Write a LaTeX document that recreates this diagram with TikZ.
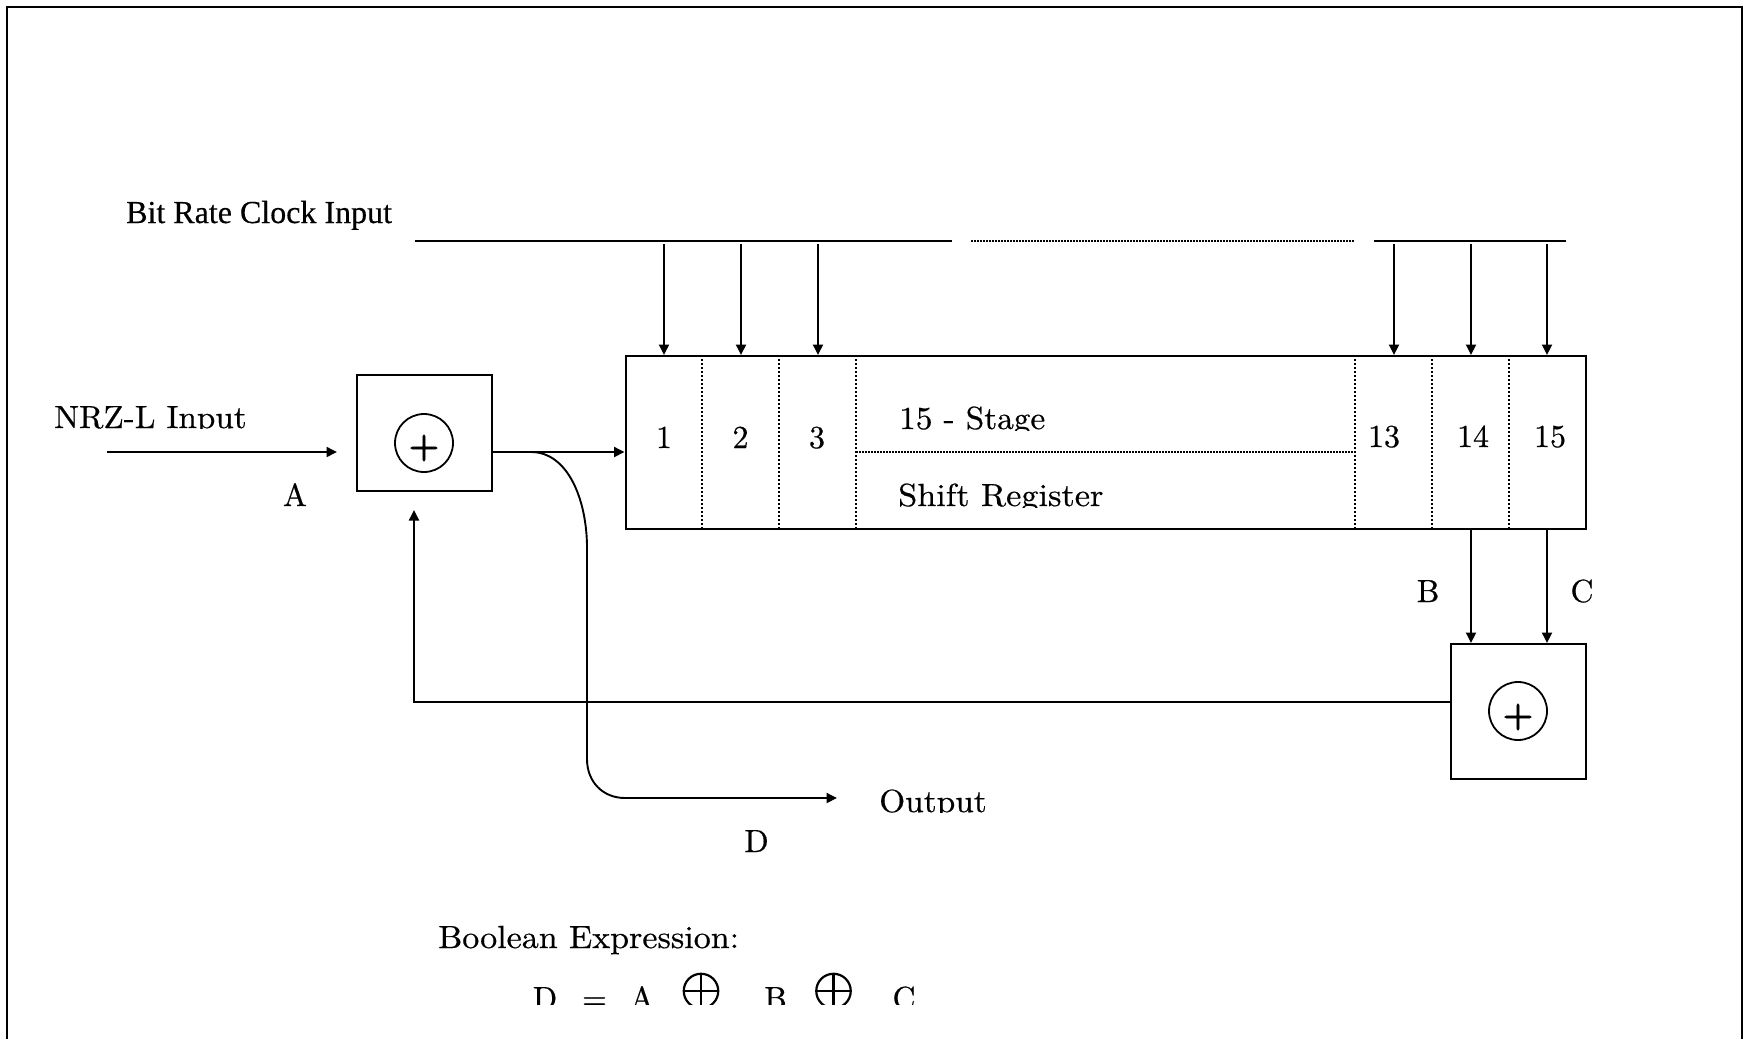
\documentclass[tikz,border=0pt]{standalone}
\usepackage{fontspec}
\setmainfont{lmroman10-regular}[Extension=.otf,RawFeature={embolden=0.5}]
\newfontfamily\plusfont{lmroman10-bold}[Extension=.otf,RawFeature={embolden=2.5}]
\newfontfamily\timesfont{Liberation Serif}[RawFeature={embolden=0.4}]
\newcommand{\stretched}[1]{\addfontfeature{FakeStretch=#1}}
\usetikzlibrary{arrows.meta}
\tikzset{
  x=1pt,y=-1pt,
  wire/.style={line width=1.9pt,line cap=butt},
  arrowed/.style={wire,-{Triangle[length=10.5pt,width=10pt]}},
  boxed/.style={draw,line width=2pt,inner sep=0pt,fill=white},
  dotline/.style={line width=1.9pt,dash pattern=on 2pt off 2pt},
  fineline/.style={line width=1.9pt,dash pattern=on 1.6pt off 1.4pt},
  txt/.style={inner sep=0pt,anchor=base west,font=\fontsize{32}{36}\selectfont},
  ctxt/.style={inner sep=0pt,anchor=base,font=\fontsize{32}{36}\selectfont},
  ring/.style={draw,circle,line width=1.8pt,minimum size=58pt,inner sep=0pt},
  plusmark/.style={inner sep=0pt,font=\fontsize{34}{38}\plusfont},
  oplusarc/.style={draw,circle,line width=2.2pt,minimum size=34.5pt,inner sep=0pt}
}
\begin{document}
\begin{tikzpicture}
\useasboundingbox (0,0) rectangle (1743,1039);
\fill[white] (0,0) rectangle (1743,1039);
\draw[line width=2pt] (6.5,1039) -- (6.5,6.5) -- (1741.5,6.5) -- (1741.5,1039);

% boxes
\node[boxed,minimum width=960.5pt,minimum height=173pt] (reg) at (1105.75,442.5) {};
\node[boxed,minimum width=134.5pt,minimum height=116pt] (suma) at (424.25,433) {};
\node[boxed,minimum width=135pt,minimum height=135pt] (sumb) at (1518.5,711.5) {};
\node[ring] (ringa) at (424,443) {};
\node[ring] (ringb) at (1518,711) {};
\node[plusmark] (plusa) at (424,448) {+};
\node[plusmark] (plusb) at (1518,717) {+};

% cell dividers
\foreach \n/\cx in {a/702,b/779,c/856,d/1355,e/1432,f/1509}{
  \coordinate (div\n) at (\cx,356);
  \draw[dotline] (div\n |- reg.north) -- (div\n |- reg.south);
}
\draw[fineline] (divc |- 0,452) -- (divd |- 0,452);

% clock bar
\coordinate (clkA) at (415,241);
\coordinate (clkB) at (952,241);
\coordinate (clkC) at (971,241);
\coordinate (clkD) at (1354,241);
\coordinate (clkE) at (1374,241);
\coordinate (clkF) at (1566,241);
\draw[wire] (clkA) -- (clkB);
\draw[fineline] (clkC) -- (clkD);
\draw[wire] (clkE) -- (clkF);
\foreach \n/\cx in {1/664,2/741,3/818,13/1394,14/1471,15/1547}{
  \coordinate (tap\n) at (\cx,244);
  \draw[arrowed] (tap\n) -- (tap\n |- reg.north);
}

% B, C
\draw[arrowed] (tap14 |- reg.south) -- (tap14 |- sumb.north);
\draw[arrowed] (tap15 |- reg.south) -- (tap15 |- sumb.north);

% input
\coordinate (inp) at (107,452);
\coordinate (inpEnd) at (337,452);
\draw[arrowed] (inp) -- (inpEnd);
\coordinate (outrow) at (491.5,452);
\draw[arrowed] (outrow) -- (outrow -| reg.west);

% feedback
\coordinate (fbStart) at (1451,702);
\coordinate (fbTurn) at (414,702);
\coordinate (fbEnd) at (414,510);
\draw[arrowed] (fbStart) -- (fbTurn) -- (fbEnd);

% output curve
\coordinate (curveA) at (531,452);
\coordinate (curveB) at (587,548);
\coordinate (curveC) at (587,759);
\coordinate (curveD) at (625,798);
\coordinate (outEnd) at (837,798);
\draw[wire] (curveA) .. controls (568,452) and (587,500) .. (curveB) -- (curveC) .. controls (587,782) and (603,798) .. (curveD);
\draw[arrowed] (curveD) -- (outEnd);

% labels
\node[txt,font=\fontsize{32}{36}\timesfont] (lclk) at (126,223) {Bit Rate Clock Input};
\begin{scope}
\clip (40,395) rectangle (260,428.5);
\node[txt] (lnrz) at (54,428) {\stretched{1.036}NRZ-L Input};
\end{scope}
\node[ctxt] (la) at (295,506) {A};
\node[ctxt] (n1) at (664,448) {1};
\node[ctxt] (n2) at (740.5,448) {2};
\node[ctxt] (n3) at (817,448) {3};
\node[ctxt] (n13) at (1384,447) {13};
\node[ctxt] (n14) at (1473,447) {14};
\node[ctxt] (n15) at (1550,447) {15};
\begin{scope}
\clip (890,395) rectangle (1060,430);
\node[txt] (lstage) at (899,429) {\stretched{1.04}15 - Stage};
\end{scope}
\begin{scope}
\clip (890,475) rectangle (1120,507);
\node[txt] (lshift) at (898,506) {\stretched{1.07}Shift Register};
\end{scope}
\node[ctxt] (lb) at (1428,602) {B};
\node[ctxt] (lc) at (1582,602) {C};
\begin{scope}
\clip (870,780) rectangle (1000,812.5);
\node[txt] (lout) at (879,812) {\stretched{1.043}Output};
\end{scope}
\node[ctxt] (ld) at (756.5,852) {D};
\node[txt] (lbool) at (438,948) {\stretched{1.063}Boolean Expression:};
\begin{scope}
\clip (520,960) rectangle (930,1004.5);
\node[ctxt] (eD) at (545,1009) {D};
\node[ctxt] (eEq) at (594.5,1009) {=};
\node[ctxt] (eA) at (642,1009) {A};
\node[oplusarc] (eO) at (701,991) {};
\draw[line width=2.2pt] (eO.west) -- (eO.east) (eO.north) -- (eO.south);
\node[ctxt] (eB) at (775.5,1009) {B};
\node[oplusarc] (eP) at (833.5,991) {};
\draw[line width=2.2pt] (eP.west) -- (eP.east) (eP.north) -- (eP.south);
\node[ctxt] (eC) at (904,1009) {C};
\end{scope}
\end{tikzpicture}
\end{document}
